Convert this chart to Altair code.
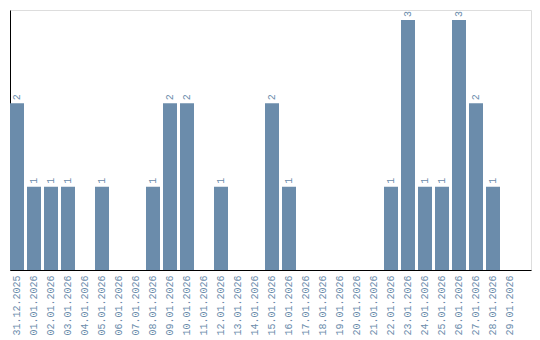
import altair as alt
import pandas as pd

dates = ["31.12.2025", "01.01.2026", "02.01.2026", "03.01.2026", "04.01.2026",
         "05.01.2026", "06.01.2026", "07.01.2026", "08.01.2026", "09.01.2026",
         "10.01.2026", "11.01.2026", "12.01.2026", "13.01.2026", "14.01.2026",
         "15.01.2026", "16.01.2026", "17.01.2026", "18.01.2026", "19.01.2026",
         "20.01.2026", "21.01.2026", "22.01.2026", "23.01.2026", "24.01.2026",
         "25.01.2026", "26.01.2026", "27.01.2026", "28.01.2026", "29.01.2026"]
counts = [2, 1, 1, 1, 0, 1, 0, 0, 1, 2, 2, 0, 1, 0, 0, 2, 1, 0, 0, 0,
          0, 0, 1, 3, 1, 1, 3, 2, 1, 0]

df = pd.DataFrame({"date": dates, "count": counts})

COLOR = "#6b8cab"
FONT = "Liberation Mono"

x = alt.X("date:N", sort=dates, title=None,
          scale=alt.Scale(paddingInner=0.18, paddingOuter=0, align=0, round=True),
          axis=alt.Axis(labelAngle=270, labelColor=COLOR, labelFont=FONT,
                        labelFontSize=10, labelPadding=5, ticks=False,
                        domainColor="black", domainWidth=1))
y = alt.Y("count:Q", title=None, scale=alt.Scale(domain=[0, 3.12], nice=False),
          axis=alt.Axis(labels=False, ticks=False, grid=False,
                        domainColor="black", domainWidth=1))

bars = alt.Chart(df).mark_bar(color=COLOR).encode(x=x, y=y)

labels = alt.Chart(df).transform_filter(alt.datum["count"] > 0).mark_text(
    angle=270, align="left", baseline="middle", dx=3,
    font=FONT, fontSize=10, color=COLOR
).encode(x=x, y=y, text="count:Q")

chart = (bars + labels).properties(
    width=521, height=260,
    padding={"left": 10, "top": 10, "right": 9, "bottom": 70},
    autosize=alt.AutoSizeParams(type="none"),
).configure_view(stroke=None).configure(background="white")

chart.save("out.html", embed_options={"renderer": "svg", "actions": False})
